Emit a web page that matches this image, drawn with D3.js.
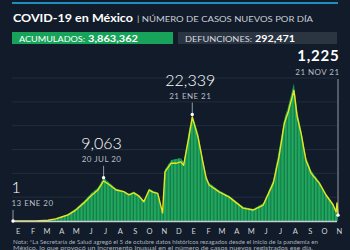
<!DOCTYPE html>
<html>
<head>
<meta charset="utf-8">
<script src="https://cdn.jsdelivr.net/npm/d3@7"></script>
<style>
  html, body { margin: 0; padding: 0; background: #111b29; }
  svg { display: block; font-family: Lato, "Open Sans", sans-serif; }
</style>
</head>
<body>
<div id="grafica"></div>
<script>
// fechas de los puntos
var fechas = ["2020-01-13","2020-03-01","2020-03-26","2020-04-11","2020-04-25","2020-05-07","2020-05-23","2020-06-09","2020-06-24","2020-07-08","2020-07-20","2020-08-01","2020-08-15","2020-08-31","2020-09-11","2020-09-21","2020-10-02","2020-10-12","2020-10-23","2020-11-01","2020-11-10","2020-11-20","2020-11-25","2020-12-08","2020-12-18","2020-12-28","2021-01-03","2021-01-14","2021-01-21","2021-02-02","2021-02-12","2021-02-19","2021-02-25","2021-03-18","2021-04-08","2021-05-07","2021-05-28","2021-06-18","2021-07-09","2021-07-21","2021-08-01","2021-08-09","2021-08-21","2021-08-28","2021-09-05","2021-09-15","2021-09-26","2021-10-13","2021-10-27","2021-11-11","2021-11-17","2021-11-19","2021-11-21"];
// linea amarilla (promedio)
var promedio = [0,0,150,450,900,1300,2300,3800,5300,6500,8400,7600,6500,6150,5500,5900,5200,4050,6500,6000,5800,1700,10300,12150,12100,12400,11700,17600,21800,17600,12400,9000,7550,6100,5000,2700,2300,3350,7950,13500,20500,22800,27400,21800,18400,12800,10000,7950,5450,3350,1900,3800,1225];
// tope de las barras diarias
var casosDiarios = [1,0,200,500,1000,1500,2600,4200,5800,7000,9063,8000,6800,6300,5700,6200,5400,4300,6800,6300,6000,1800,10800,12800,13000,13200,12300,19000,22339,18500,13000,9500,8000,6400,5300,3000,2500,3700,8600,15000,21500,24000,28900,23000,19200,13500,10600,8300,5700,3600,2000,4000,1225];
var meses = ["E","F","M","A","M","J","J","A","S","O","N","D","E","F","M","A","M","J","J","A","S","O","N"];
var lineasGuia = [5000,10000,15000,20000,25000,30000];
// anotaciones
var notas = [
  {fecha:"2020-01-13", valor:"1", etiqueta:"13 ENE 20"},
  {fecha:"2020-07-20", valor:"9,063", etiqueta:"20 JUL 20"},
  {fecha:"2021-01-21", valor:"22,339", etiqueta:"21 ENE 21"},
  {fecha:"2021-11-21", valor:"1,225", etiqueta:"21 NOV 21"}
];
var acumulados = "3,863,362";
var defunciones = "292,471";

var parse = d3.timeParse("%Y-%m-%d");
var data = fechas.map((f, i) => ({fecha: parse(f), prom: promedio[i], casos: casosDiarios[i]}));

var W = 350, H = 250;
var svg = d3.select("#grafica").append("svg").attr("width", W).attr("height", H);
svg.append("rect").attr("width", W).attr("height", H).attr("fill", "#111b29");

// linea azul superior
svg.append("line").attr("x1", 12).attr("x2", 338).attr("y1", 3).attr("y2", 3)
  .attr("stroke", "#1b8fc2").attr("stroke-width", 2);

// titulo
svg.append("text").attr("x", 13).attr("y", 22).attr("fill", "#fff")
  .attr("font-weight", "bold").attr("font-size", 10.5)
  .attr("textLength", 120).attr("lengthAdjust", "spacingAndGlyphs").text("COVID-19 en México");
svg.append("text").attr("x", 137).attr("y", 21.5).attr("fill", "#c9ced6").attr("font-size", 8.3)
  .attr("textLength", 176).attr("lengthAdjust", "spacingAndGlyphs").text("| NÚMERO DE CASOS NUEVOS POR DÍA");

// cajas
function etiquetaCaja(x0, w, fondo, rotulo, wr, valor, wv, colRotulo) {
  svg.append("rect").attr("x", x0).attr("y", 32).attr("width", w).attr("height", 12).attr("fill", fondo);
  svg.append("text").attr("x", x0 + 7).attr("y", 41.7).attr("fill", colRotulo).attr("font-size", 8.4)
    .attr("textLength", wr).attr("lengthAdjust", "spacingAndGlyphs").text(rotulo);
  svg.append("text").attr("x", x0 + 10 + wr).attr("y", 41.7).attr("fill", "#fff").attr("font-size", 8.6)
    .attr("font-weight", "bold").attr("textLength", wv).attr("lengthAdjust", "spacingAndGlyphs").text(valor);
}
etiquetaCaja(12, 161, "#17a35a", "ACUMULADOS:", 66, acumulados, 50, "#fff");
etiquetaCaja(178, 159, "#2b3441", "DEFUNCIONES:", 67, defunciones, 40, "#d7dbe0");

// escalas
var x = d3.scaleTime().domain([parse("2020-01-13"), parse("2021-11-21")]).range([13, 338]);
var y = d3.scaleLinear().domain([0, 30000]).range([221, 78]);

// guias horizontales
svg.append("g").selectAll("line").data(lineasGuia).join("line")
  .attr("x1", 12).attr("x2", 337).attr("y1", d => y(d)).attr("y2", d => y(d))
  .attr("stroke", "#222d3d").attr("stroke-width", 1);

// patron de barras (dia a dia)
var defs = svg.append("defs");
var pat = defs.append("pattern").attr("id", "barras").attr("patternUnits", "userSpaceOnUse")
  .attr("width", 3.35).attr("height", 10);
pat.append("rect").attr("width", 3.35).attr("height", 10).attr("fill", "#20a85d");
pat.append("rect").attr("x", 2.2).attr("width", 1.1).attr("height", 10).attr("fill", "#137446");

var area = d3.area().x(d => x(d.fecha)).y0(y(0)).y1(d => y(d.casos));
svg.append("path").datum(data).attr("d", area).attr("fill", "url(#barras)");

var linea = d3.line().x(d => x(d.fecha)).y(d => y(d.prom));
svg.append("path").datum(data).attr("d", linea).attr("fill", "none")
  .attr("stroke", "#e9e51c").attr("stroke-width", 1.4).attr("stroke-linejoin", "round");

// eje base
svg.append("line").attr("x1", 12).attr("x2", 337).attr("y1", 221.5).attr("y2", 221.5)
  .attr("stroke", "#c9cdd3").attr("stroke-width", 1.5);

// meses
var inicioMeses = d3.timeMonth.range(parse("2020-01-01"), parse("2021-11-02"));
svg.append("g").selectAll("text").data(inicioMeses).join("text")
  .attr("x", d => x(d3.timeDay.offset(d, 23)))
  .attr("y", 233.5).attr("text-anchor", "middle").attr("font-size", 7.5)
  .attr("fill", "#d3d7dc").text((d, i) => meses[i]);

// anotaciones
var byFecha = {};
data.forEach(d => byFecha[d3.timeFormat("%Y-%m-%d")(d.fecha)] = d);
notas.forEach((n, i) => {
  var d = byFecha[n.fecha];
  var px = x(d.fecha), py = y(d.casos);
  var ultimo = i === notas.length - 1;
  var primero = i === 0;
  var topLinea = ultimo ? 79 : py - (primero ? 11 : 12);
  svg.append("line").attr("x1", px).attr("x2", px).attr("y1", topLinea).attr("y2", py)
    .attr("stroke", "#b5bbc4").attr("stroke-width", 0.8);
  svg.append("circle").attr("cx", px).attr("cy", py).attr("r", 1.7).attr("fill", "#fff");
  var anchor = ultimo ? "end" : (primero ? "start" : "middle");
  var tx = ultimo ? 339.5 : (primero ? 11.5 : px - 2);
  var yEt = ultimo ? 75 : topLinea - 4;
  var yVal = ultimo ? 61 : yEt - 13;
  svg.append("text").attr("x", tx).attr("y", yEt).attr("text-anchor", anchor)
    .attr("font-size", 8).attr("letter-spacing", 0.45).attr("fill", "#b9bec6").text(n.etiqueta);
  svg.append("text").attr("x", tx).attr("y", yVal).attr("text-anchor", anchor)
    .attr("font-size", ultimo ? 15 : 16).attr("font-weight", ultimo ? "bold" : 300)
    .attr("letter-spacing", ultimo ? 0.8 : 0).attr("fill", "#fff").text(n.valor);
});

// nota al pie
svg.append("text").attr("x", 13).attr("y", 243.8).attr("font-size", 5.4).attr("fill", "#a9b0b9")
  .attr("textLength", 305).attr("lengthAdjust", "spacingAndGlyphs")
  .text("Nota: *La Secretaría de Salud agregó el 5 de octubre datos históricos rezagados desde el inicio de la pandemia en");
svg.append("text").attr("x", 13).attr("y", 249.6).attr("font-size", 5.2).attr("fill", "#a9b0b9")
  .attr("textLength", 300).attr("lengthAdjust", "spacingAndGlyphs")
  .text("México, lo que provocó un incremento inusual en el número de casos nuevos registrados ese día.");
</script>
</body>
</html>
